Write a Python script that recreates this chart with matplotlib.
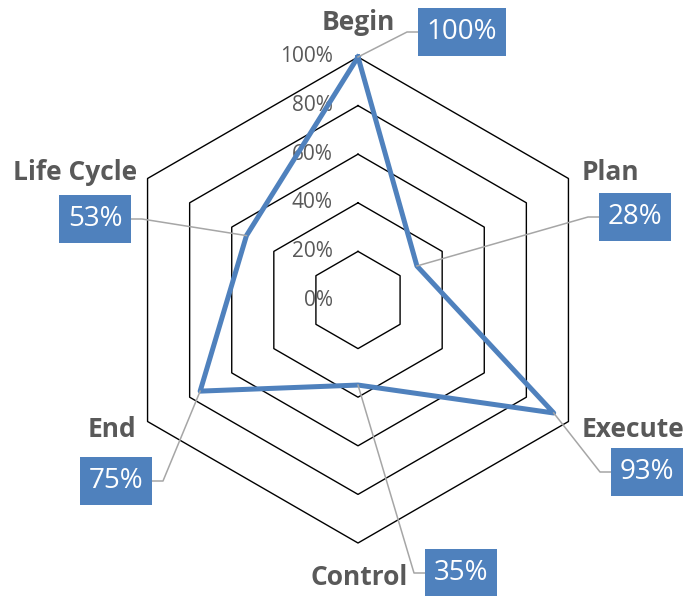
import matplotlib
matplotlib.use("Agg")
import matplotlib.pyplot as plt
from matplotlib.lines import Line2D
from matplotlib.patches import Rectangle
import numpy as np

""" Data """

categories = ["Begin", "Plan", "Execute", "Control", "End", "Life Cycle"]
values = [1.00, 0.28, 0.93, 0.35, 0.75, 0.53]
ring_levels = [0.0, 0.2, 0.4, 0.6, 0.8, 1.0]
ring_labels = ["0%", "20%", "40%", "60%", "80%", "100%"]

""" Layout (pixels, measured from top-left) """

W, H = 686, 596
cx, cy, R = 358, 300, 243  # centre and outer radius of the radar
cat_pos = [(358, 30), (610, 180), (633, 437), (359, 585), (112, 437), (75, 180)]  # baselines
box_pos = [(462, 32), (635, 217), (647, 472), (461, 573), (116, 481), (95, 219)]
box_w = [88, 72, 72, 72, 72, 72]
box_h = 48
leader_side = [-1, -1, -1, -1, 1, 1]  # -1: leader enters the box's left edge, 1: right edge

blue = "#4F81BD"
grey_text = "#595959"
leader_col = "#A6A6A6"

plt.rcParams['font.family'] = ['Open Sans', 'DejaVu Sans']


def fig_xy(x, y):  # top-left pixels -> figure fraction
    return x / W, 1 - y / H


fig = plt.figure(figsize=(W / 100, H / 100), dpi=100)
ax = fig.add_axes([(cx - R) / W, (H - cy - R) / H, 2 * R / W, 2 * R / H], projection='polar')
ax.set_theta_zero_location('N')
ax.set_theta_direction(-1)
ax.set_ylim(0, 1)
ax.set_xticks([])
ax.set_yticks([])
ax.grid(False)
ax.spines['polar'].set_visible(False)
ax.patch.set_visible(False)

theta = np.arange(len(categories)) * 2 * np.pi / len(categories)
theta_closed = np.append(theta, theta[0])

# hexagon gridlines
for lvl in ring_levels[1:]:
    ax.plot(theta_closed, [lvl] * len(theta_closed), color='black', lw=1, clip_on=False, zorder=1)

# value axis labels
for lvl, lab in zip(ring_levels, ring_labels):
    ax.annotate(lab, xy=(0, lvl), xytext=(-25, 0), textcoords='offset pixels',
                ha='right', va='center', fontsize=15, color=grey_text, annotation_clip=False)

# data series
vals_closed = np.append(values, values[0])
ax.plot(theta_closed, vals_closed, color=blue, lw=3.6, solid_joinstyle='round',
        clip_on=False, zorder=3)

# category labels
for name, (x, y) in zip(categories, cat_pos):
    fx, fy = fig_xy(x, y)
    fig.text(fx, fy, name, ha='center', va='baseline', fontsize=19,
             fontweight='bold', color=grey_text)

# data labels with leader lines
to_fig = fig.transFigure.inverted()
for t, v, (bx, by), bw, side in zip(theta, values, box_pos, box_w, leader_side):
    px, py = to_fig.transform(ax.transData.transform((t, v)))
    edge_x = bx + side * bw / 2
    ex, ey = fig_xy(edge_x, by)
    kx, ky = fig_xy(edge_x + side * 11, by)
    fig.add_artist(Line2D([px, kx, ex], [py, ky, ey], color=leader_col, lw=1.1,
                          transform=fig.transFigure, zorder=4))
    x0, y0 = fig_xy(bx - bw / 2, by + box_h / 2)
    fig.add_artist(Rectangle((x0, y0), bw / W, box_h / H, transform=fig.transFigure,
                             facecolor=blue, edgecolor='none', zorder=5))
    tx, ty = fig_xy(bx, by)
    fig.text(tx, ty, "{:.0f}%".format(v * 100), ha='center', va='center',
             fontsize=20, color='white', zorder=6)

fig.savefig("out.png", dpi=100)
